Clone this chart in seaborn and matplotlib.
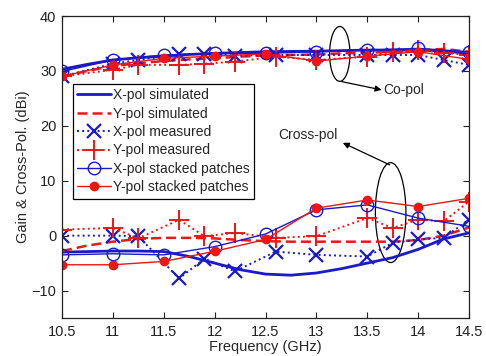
import matplotlib
matplotlib.use("Agg")
import matplotlib.pyplot as plt
from matplotlib.patches import Ellipse
import seaborn as sns
import pandas as pd

# Frequency grids (GHz)
freq_sim = [10.5, 10.75, 11.0, 11.25, 11.5, 11.75, 12.0, 12.25, 12.5, 12.75,
            13.0, 13.25, 13.5, 13.75, 14.0, 14.25, 14.5]
freq_meas = [10.5, 11.0, 11.25, 11.65, 11.9, 12.2, 12.6, 13.0, 13.5, 13.75,
             14.0, 14.25, 14.5]
freq_stack = [10.5, 11.0, 11.5, 12.0, 12.5, 13.0, 13.5, 14.0, 14.5]

# Simulated gain (co-pol) and cross-pol, dBi
xsim_co = [30.3, 31.2, 32.0, 32.4, 32.7, 33.0, 33.2, 33.35, 33.5, 33.55,
           33.6, 33.7, 33.8, 33.8, 33.8, 33.6, 33.2]
xsim_x = [-3.0, -2.9, -2.8, -2.8, -2.9, -3.8, -5.0, -6.2, -7.0, -7.2,
          -6.8, -6.0, -5.0, -4.0, -2.5, -0.6, 0.5]
ysim_co = [29.0, 30.0, 30.9, 31.4, 31.8, 32.1, 32.3, 32.6, 32.8, 32.9,
           33.0, 33.2, 33.3, 33.5, 33.8, 34.0, 33.5]
ysim_x = [-2.8, -1.8, -1.1, -0.6, -0.4, -0.4, -0.5, -0.8, -1.0, -1.1,
          -1.1, -1.1, -1.1, -1.1, -0.8, 0.0, 1.5]

# Measured gain and cross-pol, dBi
xmeas_co = [29.0, 31.3, 32.0, 33.0, 33.1, 32.8, 32.9, 32.9, 32.9, 32.9,
            32.9, 32.0, 31.1]
xmeas_x = [0.0, 0.0, -0.1, -7.8, -4.2, -6.5, -2.9, -3.5, -3.8, -1.3,
           -0.7, -0.4, 2.9]
ymeas_co = [29.0, 30.2, 31.1, 31.1, 31.3, 31.7, 32.6, 32.0, 32.6, 33.5,
            33.8, 33.3, 32.9]
ymeas_x = [1.1, 1.4, -0.5, 2.9, -0.1, 0.5, -0.4, -0.1, 3.2, 1.4,
           2.9, 2.6, 6.2]

# Stacked-patch version, dBi
xstk_co = [29.9, 32.0, 32.9, 33.2, 33.2, 33.5, 33.8, 34.1, 33.5]
xstk_x = [-3.5, -3.3, -3.5, -2.0, 0.3, 4.7, 5.6, 3.2, 1.7]
ystk_co = [29.0, 31.1, 32.3, 32.7, 33.1, 31.8, 32.7, 33.5, 32.1]
ystk_x = [-5.3, -5.3, -4.7, -2.85, -0.7, 5.0, 6.5, 5.3, 6.8]

labels = ["X-pol simulated", "Y-pol simulated", "X-pol measured",
          "Y-pol measured", "X-pol stacked patches", "Y-pol stacked patches"]

BLUE = "#1a1ac8"
RED = "#f01515"

sns.set_style("ticks")
plt.rcParams["font.family"] = ["Liberation Sans", "DejaVu Sans"]

fig = plt.figure(figsize=(4.86, 3.56), dpi=100)
ax = fig.add_axes([0.1276, 0.1067, 0.8374, 0.8483])

styles = [
    dict(color=BLUE, lw=2.0, ls="-"),
    dict(color=RED, lw=1.8, ls=(0, (4, 2))),
    dict(color=BLUE, lw=1.4, ls=":", marker="x", ms=10, mew=1.6, mec=BLUE),
    dict(color=RED, lw=1.4, ls=":", marker="+", ms=14, mew=1.4, mec=RED),
    dict(color=BLUE, lw=1.0, ls="-", marker="o", ms=9, mfc="none", mew=1.0, mec=BLUE),
    dict(color=RED, lw=1.0, ls="-", marker="o", ms=6, mfc=RED, mew=1.0, mec=RED),
]
series = [
    (freq_sim, xsim_co, xsim_x),
    (freq_sim, ysim_co, ysim_x),
    (freq_meas, xmeas_co, xmeas_x),
    (freq_meas, ymeas_co, ymeas_x),
    (freq_stack, xstk_co, xstk_x),
    (freq_stack, ystk_co, ystk_x),
]

handles = []
for (f, co, xp), st, lab in zip(series, styles, labels):
    df = pd.DataFrame({"f": f, "co": co, "xp": xp})
    kw = dict(st)
    color = kw.pop("color")
    sns.lineplot(data=df, x="f", y="co", ax=ax, color=color, sort=False,
                 estimator=None, label=lab, **kw)
    sns.lineplot(data=df, x="f", y="xp", ax=ax, color=color, sort=False,
                 estimator=None, **kw)
    handles.append(ax.lines[-2])

ax.set_xlim(10.5, 14.5)
ax.set_ylim(-15, 40)
ax.set_xticks([10.5, 11, 11.5, 12, 12.5, 13, 13.5, 14, 14.5])
ax.set_xticklabels(["10.5", "11", "11.5", "12", "12.5", "13", "13.5", "14", "14.5"])
ax.set_yticks([-10, 0, 10, 20, 30, 40])
ax.tick_params(direction="in", top=True, right=True, length=4, width=0.8,
               labelsize=10.5, colors="#222222")
ax.tick_params(axis="x", pad=5)
ax.tick_params(axis="y", pad=4)
for sp in ax.spines.values():
    sp.set_visible(True)
    sp.set_color("#222222")
    sp.set_linewidth(0.9)

ax.set_xlabel("Frequency (GHz)", fontsize=10.5, labelpad=1)
ax.set_ylabel("Gain & Cross-Pol. (dBi)", fontsize=10.5, labelpad=1)

leg = ax.legend(handles=handles, labels=labels, loc="upper left",
                bbox_to_anchor=(0.027, 0.775), borderaxespad=0, fontsize=10,
                frameon=True, fancybox=False, edgecolor="black",
                framealpha=1, handlelength=2.4, handletextpad=0.2,
                labelspacing=0.32, borderpad=0.3, numpoints=1)
leg.get_frame().set_linewidth(0.9)

# Groupings of co-pol and cross-pol curves
ax.add_patch(Ellipse((13.23, 33.1), 0.2, 10, fill=False, ec="black", lw=0.9))
ax.add_patch(Ellipse((13.73, 4.2), 0.3, 18.2, fill=False, ec="black", lw=0.9))
ax.annotate("", xy=(13.64, 26.55), xytext=(13.25, 28.05),
            arrowprops=dict(arrowstyle="-|>", color="black", lw=0.9,
                            mutation_scale=9, shrinkA=0, shrinkB=0))
ax.text(13.66, 26.5, "Co-pol", fontsize=10, ha="left", va="center")
ax.annotate("", xy=(13.26, 16.9), xytext=(13.72, 12.9),
            arrowprops=dict(arrowstyle="-|>", color="black", lw=0.9,
                            mutation_scale=9, shrinkA=0, shrinkB=0))
ax.text(13.21, 18.4, "Cross-pol", fontsize=10, ha="right", va="center")

fig.savefig("out.png", dpi=100)
